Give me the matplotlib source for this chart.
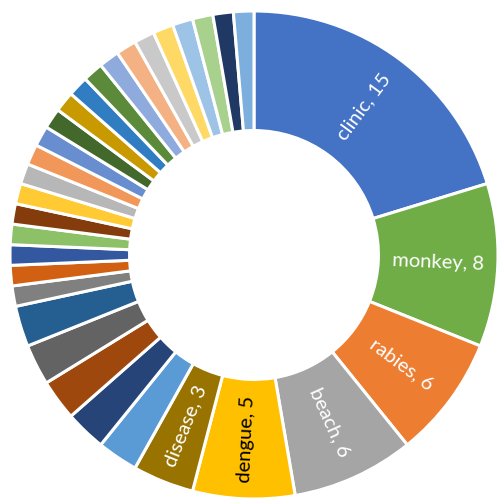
import matplotlib
matplotlib.use("Agg")
import matplotlib.pyplot as plt
import numpy as np

labels = ["clinic", "monkey", "rabies", "beach", "dengue", "disease"] + [""] * 26
values = [15, 8, 6, 6, 5, 3, 2, 2, 2, 2, 2] + [1] * 21
colors = [
    "#4472C4", "#70AD47", "#ED7D31", "#A5A5A5", "#FFC000", "#997300",
    "#5B9BD5", "#264478", "#9E480E", "#636363", "#255E91",
    "#808080", "#D26012", "#3358A0", "#8CC168", "#843C0C", "#FFCA33",
    "#B7B7B7", "#F1975A", "#698ED0", "#43682B", "#C99A00", "#317DC2",
    "#5A8A3A", "#8FAADC", "#F4B183", "#C9C9C9", "#FFD966", "#9DC3E6",
    "#A9D18E", "#1F3864", "#7CAFDD",
]
label_colors = {"dengue": "black"}

fig = plt.figure(figsize=(4.97, 4.99), dpi=100)
ax = fig.add_axes([0, 0, 1, 1])

ax.pie(
    values,
    colors=colors,
    startangle=90,
    counterclock=False,
    radius=1.0,
    wedgeprops={"width": 0.49, "edgecolor": "white", "linewidth": 2.2},
)

# labels sit mid-ring, rotated along the radius (flipped when upside down)
total = sum(values)
cum = 0
for name, val in zip(labels, values):
    mid = (cum + val / 2) / total * 360
    cum += val
    if not name:
        continue
    ang = np.deg2rad(90 - mid)
    r = 0.755
    rot = 90 - mid
    if rot < -90:
        rot += 180
    ax.text(r * np.cos(ang), r * np.sin(ang), f"{name}, {val}",
            rotation=rot, rotation_mode="anchor", ha="center", va="center",
            fontsize=14.5, family="Lato", color=label_colors.get(name, "white"))

ax.set_xlim(-254 / 244, 243 / 244)
ax.set_ylim(-244 / 244, 255 / 244)
ax.set_aspect("equal")
ax.axis("off")

fig.savefig("out.png", dpi=100)
